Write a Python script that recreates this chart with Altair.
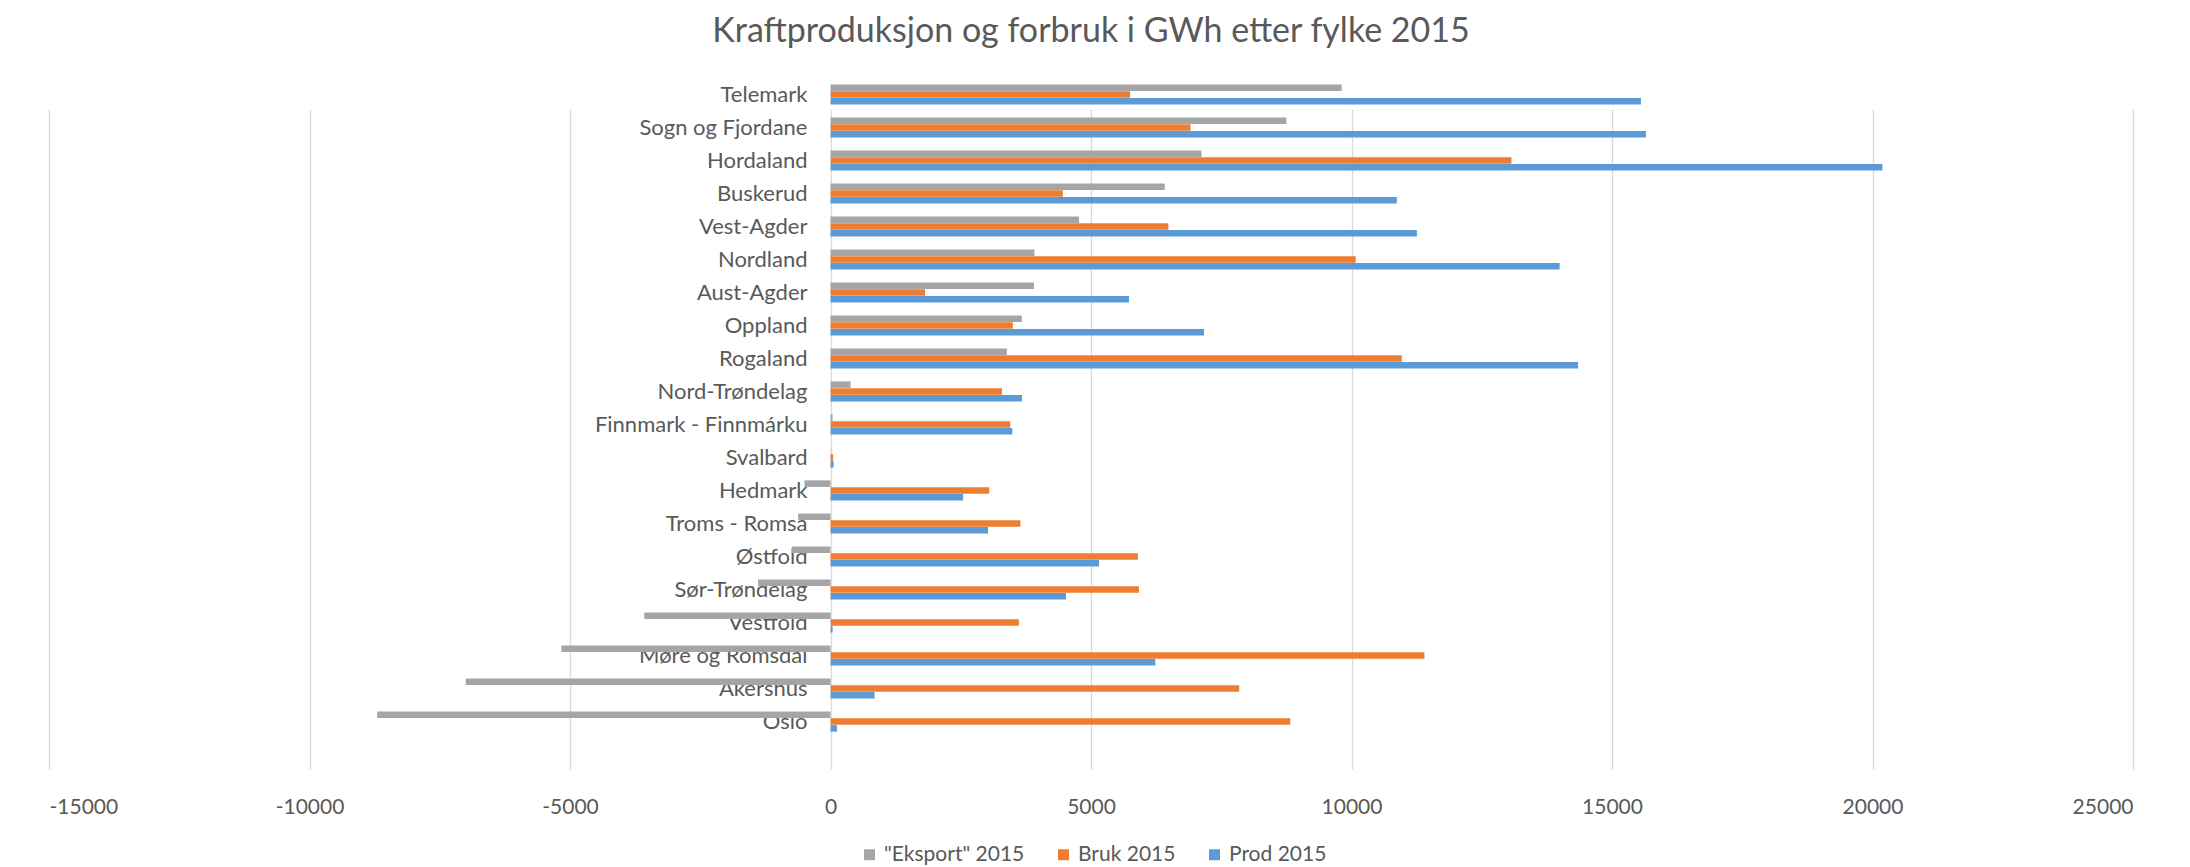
import altair as alt
import pandas as pd

fylker = ["Telemark", "Sogn og Fjordane", "Hordaland", "Buskerud", "Vest-Agder",
          "Nordland", "Aust-Agder", "Oppland", "Rogaland", "Nord-Trøndelag",
          "Finnmark - Finnmárku", "Svalbard", "Hedmark", "Troms - Romsa", "Østfold",
          "Sør-Trøndelag", "Vestfold", "Møre og Romsdal", "Akershus", "Oslo"]
eksport = [9810, 8750, 7120, 6415, 4770, 3915, 3905, 3670, 3385, 385,
           40, 5, -500, -620, -740, -1390, -3575, -5165, -7000, -8700]
bruk = [5750, 6910, 13070, 4460, 6485, 10080, 1815, 3500, 10965, 3290,
        3450, 50, 3045, 3645, 5900, 5920, 3615, 11400, 7845, 8825]
prod = [15555, 15650, 20190, 10870, 11255, 13995, 5730, 7170, 14350, 3675,
        3490, 60, 2545, 3025, 5155, 4520, 40, 6235, 845, 125]
series = ['"Eksport" 2015', "Bruk 2015", "Prod 2015"]
colors = ["#A5A5A5", "#ED7D31", "#5B9BD5"]
x_ticks = [-15000, -10000, -5000, 0, 5000, 10000, 15000, 20000, 25000]

rows = []
for i, f in enumerate(fylker):
    for s, vals in zip(series, [eksport, bruk, prod]):
        rows.append({"fylke": f, "serie": s, "verdi": vals[i]})
df = pd.DataFrame(rows)

W, H = 2084, 691
BAND = 33
FONT = "Lato"
TXT = "#595959"

chart = alt.Chart(df).mark_bar().encode(
    x=alt.X("verdi:Q",
            scale=alt.Scale(domain=[-15000, 25000], nice=False, zero=False),
            axis=alt.Axis(values=x_ticks, title=None, grid=True, gridColor="#D9D9D9",
                          gridWidth=1.3, domain=False, ticks=False, labelFontSize=21,
                          labelColor=TXT, labelFont=FONT, labelPadding=27,
                          labelExpr="'' + datum.value")),
    y=alt.Y("fylke:N", sort=fylker,
            scale=alt.Scale(range=[0, BAND * len(fylker)], paddingInner=0, paddingOuter=0),
            axis=alt.Axis(title=None, domain=False, ticks=False, grid=False,
                          offset=-781, labelPadding=23, labelFontSize=22,
                          labelLimit=0, labelColor=TXT, labelFont=FONT)),
    yOffset=alt.YOffset("serie:N", sort=series,
                        scale=alt.Scale(paddingOuter=0.93, paddingInner=0.05)),
    color=alt.Color("serie:N", sort=series,
                    scale=alt.Scale(domain=series, range=colors),
                    legend=alt.Legend(title=None, orient="none", legendX=810, legendY=766,
                                      direction="horizontal", symbolType="square",
                                      symbolSize=120, symbolStrokeWidth=0,
                                      labelFontSize=21, labelColor=TXT, labelFont=FONT,
                                      columnPadding=28, labelLimit=0)),
).properties(
    width=W, height=H,
    title=alt.TitleParams("Kraftproduksjon og forbruk i GWh etter fylke 2015",
                          fontSize=34, font=FONT, fontWeight="normal", color=TXT,
                          anchor="middle", offset=29),
    autosize="none",
    padding={"left": 41, "top": 70, "right": 49, "bottom": 96},
    background="white",
).configure_view(strokeWidth=0, stroke="transparent")

chart.save("out.html", embed_options={"renderer": "svg", "actions": False})
